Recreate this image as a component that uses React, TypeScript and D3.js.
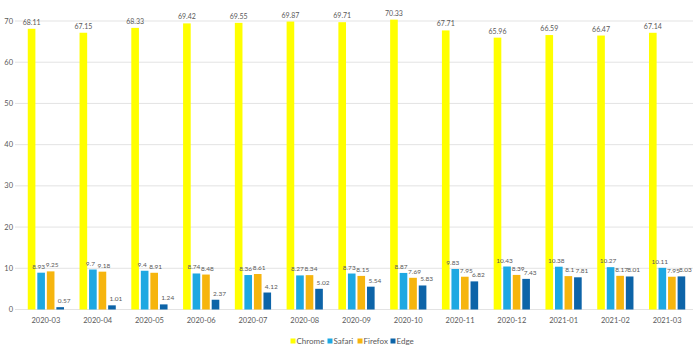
import React from "react";
import { scaleBand, scaleLinear, range } from "d3";

// market share per month
const months = [
  "2020-03", "2020-04", "2020-05", "2020-06", "2020-07", "2020-08", "2020-09",
  "2020-10", "2020-11", "2020-12", "2021-01", "2021-02", "2021-03",
];
const chrome = [68.11, 67.15, 68.33, 69.42, 69.55, 69.87, 69.71, 70.33, 67.71, 65.96, 66.59, 66.47, 67.14];
const safari = [8.93, 9.7, 9.4, 8.74, 8.36, 8.27, 8.73, 8.87, 9.83, 10.43, 10.38, 10.27, 10.11];
const firefox = [9.25, 9.18, 8.91, 8.48, 8.61, 8.34, 8.15, 7.69, 7.95, 8.39, 8.1, 8.17, 7.95];
const edge = [0.57, 1.01, 1.24, 2.37, 4.12, 5.02, 5.54, 5.83, 6.82, 7.43, 7.81, 8.01, 8.03];
const browsers = ["Chrome", "Safari", "Firefox", "Edge"];
const yTicks = range(0, 80, 10);

const series = [chrome, safari, firefox, edge];
const colors = ["#ffff00", "#1ea8e2", "#f6b50e", "#0d64a8"];
// small nudges for the data labels so they sit like the excel ones
const labelShift = [0, -2.5, 1.5, 4];

const width = 700;
const height = 351;
const font = "Lato, 'Open Sans', sans-serif";
const textColor = "#595959";

export default function App() {
  const x0 = scaleBand<string>()
    .domain(months)
    .range([20, 693])
    .paddingInner(0.3)
    .paddingOuter(0.15);

  const x1 = scaleBand<string>()
    .domain(browsers)
    .range([0, x0.bandwidth()])
    .paddingInner(0.2);

  const y = scaleLinear().domain([0, 70]).range([309.5, 21]);

  // legend marker positions
  const legendX = [293, 330, 360, 393];

  return (
    <svg
      width={width}
      height={height}
      style={{ position: "absolute", left: 0, top: 0, background: "#fff" }}
      fontFamily={font}
    >
      {/* gridlines + y labels */}
      {yTicks.map((t) => (
        <g key={t}>
          <line x1={15} x2={693} y1={y(t)} y2={y(t)} stroke="#e3e3e3" strokeWidth={1} />
          <text x={13} y={y(t)} dy="0.35em" textAnchor="end" fontSize={7.5} fill={textColor}>
            {t}
          </text>
        </g>
      ))}

      {/* bars */}
      {months.map((m, i) => (
        <g key={m} transform={`translate(${x0(m)},0)`}>
          {series.map((s, j) => (
            <rect
              key={browsers[j]}
              x={x1(browsers[j])}
              y={y(s[i])}
              width={x1.bandwidth()}
              height={y(0) - y(s[i])}
              fill={colors[j]}
            />
          ))}
          {series.map((s, j) => (
            <text
              key={"l" + browsers[j]}
              x={(x1(browsers[j]) as number) + x1.bandwidth() / 2 + labelShift[j]}
              y={y(s[i]) - 4}
              textAnchor="middle"
              fontSize={j === 0 ? 7 : 6.5}
              fill={textColor}
            >
              {s[i]}
            </text>
          ))}
          <text
            x={x0.bandwidth() / 2}
            y={320}
            dy="0.35em"
            textAnchor="middle"
            fontSize={7.5}
            fill={textColor}
          >
            {m}
          </text>
        </g>
      ))}

      {/* legend */}
      {browsers.map((b, j) => (
        <g key={b} transform={`translate(${legendX[j]},341)`}>
          <rect x={-2.5} y={-2.5} width={5} height={5} fill={colors[j]} />
          <text x={3.5} dy="0.35em" fontSize={8} fill={textColor}>
            {b}
          </text>
        </g>
      ))}
    </svg>
  );
}
